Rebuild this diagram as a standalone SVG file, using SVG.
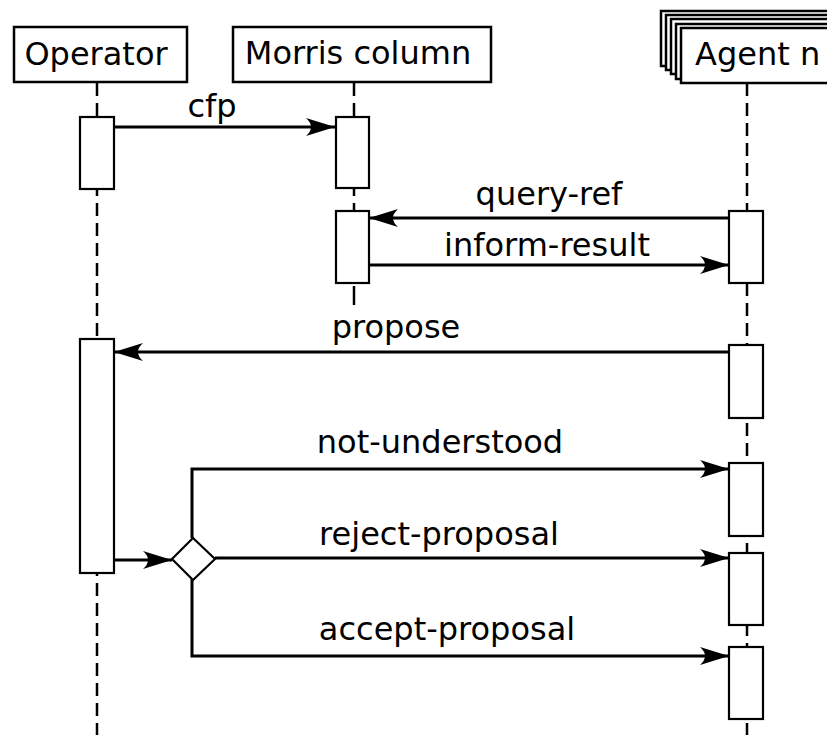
<svg xmlns="http://www.w3.org/2000/svg" width="827" height="735" viewBox="0 0 827 735">
<style>
.hdr{fill:#fff;stroke:#000;stroke-width:2.5}
.act{fill:#fff;stroke:#000;stroke-width:2.2}
.life{stroke:#000;stroke-width:2.5;stroke-dasharray:13 7;fill:none}
.msg{stroke:#000;stroke-width:3;fill:none}
text{font-family:"DejaVu Sans","Liberation Sans",sans-serif;font-size:32px;fill:#000}
.lbl{text-anchor:middle}
</style>
<defs>
<marker id="ah" markerUnits="userSpaceOnUse" markerWidth="34" markerHeight="24" viewBox="-30 -12 34 24" refX="0" refY="0" orient="auto">
<path d="M0,0 L-29,-9 Q-19,0 -29,9 Z" fill="#000"/>
</marker>
</defs>
<rect width="827" height="735" fill="#fff"/>
<g id="lifelines">
<line class="life" x1="97" y1="83" x2="97" y2="735"/>
<line class="life" x1="354" y1="83" x2="354" y2="211"/>
<line stroke="#000" stroke-width="2.5" x1="354" y1="286" x2="354" y2="305"/>
<line class="life" x1="747" y1="83" x2="747" y2="735"/>
</g>
<g id="operator">
<rect class="hdr" x="14" y="27" width="173" height="55"/>
<text x="96" y="65" class="lbl">Operator</text>
</g>
<g id="morris">
<rect class="hdr" x="233" y="27" width="258" height="55"/>
<text x="358" y="64" class="lbl">Morris column</text>
</g>
<g id="agent">
<rect class="hdr" x="661" y="11" width="180" height="55"/>
<rect class="hdr" x="666" y="15" width="180" height="55"/>
<rect class="hdr" x="671" y="19" width="180" height="55"/>
<rect class="hdr" x="676" y="24" width="180" height="55"/>
<rect class="hdr" x="681" y="28" width="180" height="55"/>
<text x="695" y="65">Agent n</text>
</g>
<g id="activations">
<rect class="act" x="80" y="117" width="34" height="72"/>
<rect class="act" x="336" y="117" width="33" height="71"/>
<rect class="act" x="336" y="211" width="33" height="72"/>
<rect class="act" x="729" y="211" width="34" height="72"/>
<rect class="act" x="729" y="345" width="34" height="73"/>
<rect class="act" x="80" y="339" width="34" height="234"/>
<rect class="act" x="729" y="463" width="34" height="73"/>
<rect class="act" x="729" y="553" width="34" height="72"/>
<rect class="act" x="729" y="647" width="34" height="72"/>
</g>
<g id="connectors">
<path class="msg" d="M114,127 H335" marker-end="url(#ah)"/>
<path class="msg" d="M729,218 H369" marker-end="url(#ah)"/>
<path class="msg" d="M369,265 H729" marker-end="url(#ah)"/>
<path class="msg" d="M729,352 H114" marker-end="url(#ah)"/>
<path class="msg" d="M114,560 H172" marker-end="url(#ah)"/>
<path class="msg" d="M192,538 V469 H729" marker-end="url(#ah)"/>
<path class="msg" d="M215,558 H729" marker-end="url(#ah)"/>
<path class="msg" d="M192,579 V656 H729" marker-end="url(#ah)"/>
</g>
<g id="decision">
<polygon points="193,538 215,559 193,580 172,559" fill="#fff" stroke="#000" stroke-width="2.2"/>
</g>
<g id="labels">
<text x="212" y="117" class="lbl">cfp</text>
<text x="549" y="205" class="lbl">query-ref</text>
<text x="547" y="256" class="lbl">inform-result</text>
<text x="396" y="338" class="lbl">propose</text>
<text x="440" y="453" class="lbl">not-understood</text>
<text x="439" y="545" class="lbl">reject-proposal</text>
<text x="447" y="640" class="lbl">accept-proposal</text>
</g>
</svg>
